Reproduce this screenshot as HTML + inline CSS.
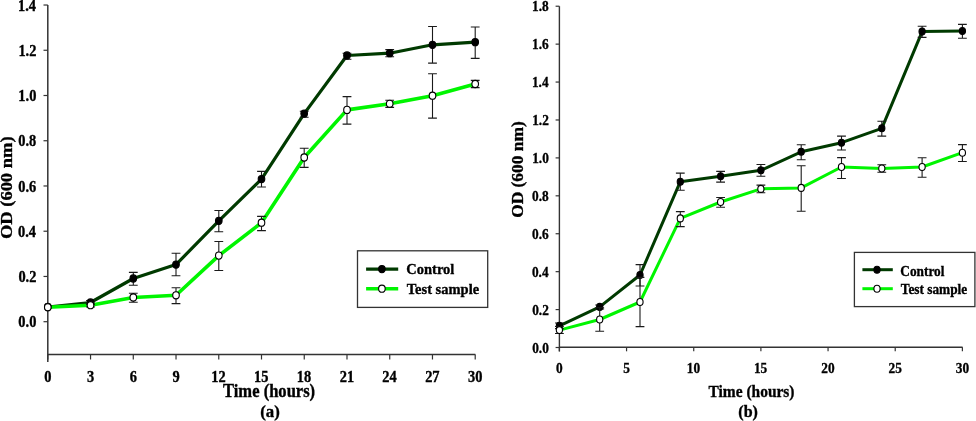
<!DOCTYPE html>
<html><head><meta charset="utf-8"><style>
html,body{margin:0;padding:0;background:#fff;overflow:hidden;}
svg{display:block;will-change:transform;}
text{font-family:"Liberation Serif", serif;font-weight:bold;fill:#000;stroke:#000;stroke-width:0.35px;}
</style></head><body>
<svg width="976" height="421" viewBox="0 0 976 421">
<rect width="976" height="421" fill="#fff"/>
<path d="M47.8,5V362" stroke="#333333" stroke-width="1.5" fill="none"/>
<path d="M47.8,354.5H475.4" stroke="#333333" stroke-width="1.4" fill="none"/>
<path d="M43.5,321.70H47.8" stroke="#333333" stroke-width="1.2"/>
<text transform="translate(18.35,327.30) scale(0.900,1)" font-size="16">0.0</text>
<path d="M43.5,276.46H47.8" stroke="#333333" stroke-width="1.2"/>
<text transform="translate(18.42,282.06) scale(0.900,1)" font-size="16">0.2</text>
<path d="M43.5,231.22H47.8" stroke="#333333" stroke-width="1.2"/>
<text transform="translate(18.07,236.82) scale(0.900,1)" font-size="16">0.4</text>
<path d="M43.5,185.98H47.8" stroke="#333333" stroke-width="1.2"/>
<text transform="translate(18.22,191.58) scale(0.900,1)" font-size="16">0.6</text>
<path d="M43.5,140.74H47.8" stroke="#333333" stroke-width="1.2"/>
<text transform="translate(18.28,146.34) scale(0.900,1)" font-size="16">0.8</text>
<path d="M43.5,95.50H47.8" stroke="#333333" stroke-width="1.2"/>
<text transform="translate(18.35,101.10) scale(0.900,1)" font-size="16">1.0</text>
<path d="M43.5,50.26H47.8" stroke="#333333" stroke-width="1.2"/>
<text transform="translate(18.42,55.86) scale(0.900,1)" font-size="16">1.2</text>
<path d="M43.5,5.02H47.8" stroke="#333333" stroke-width="1.2"/>
<text transform="translate(18.07,10.62) scale(0.900,1)" font-size="16">1.4</text>
<path d="M47.80,354.5V359.5" stroke="#333333" stroke-width="1.2"/>
<text transform="translate(44.20,381.70) scale(0.900,1)" font-size="16">0</text>
<path d="M90.54,354.5V359.5" stroke="#333333" stroke-width="1.2"/>
<text transform="translate(86.92,381.70) scale(0.900,1)" font-size="16">3</text>
<path d="M133.28,354.5V359.5" stroke="#333333" stroke-width="1.2"/>
<text transform="translate(129.65,381.70) scale(0.900,1)" font-size="16">6</text>
<path d="M176.02,354.5V359.5" stroke="#333333" stroke-width="1.2"/>
<text transform="translate(172.49,381.70) scale(0.900,1)" font-size="16">9</text>
<path d="M218.76,354.5V359.5" stroke="#333333" stroke-width="1.2"/>
<text transform="translate(211.30,381.70) scale(0.900,1)" font-size="16">12</text>
<path d="M261.50,354.5V359.5" stroke="#333333" stroke-width="1.2"/>
<text transform="translate(253.99,381.70) scale(0.900,1)" font-size="16">15</text>
<path d="M304.25,354.5V359.5" stroke="#333333" stroke-width="1.2"/>
<text transform="translate(296.71,381.70) scale(0.900,1)" font-size="16">18</text>
<path d="M346.99,354.5V359.5" stroke="#333333" stroke-width="1.2"/>
<text transform="translate(339.86,381.70) scale(0.900,1)" font-size="16">21</text>
<path d="M389.73,354.5V359.5" stroke="#333333" stroke-width="1.2"/>
<text transform="translate(382.36,381.70) scale(0.900,1)" font-size="16">24</text>
<path d="M432.47,354.5V359.5" stroke="#333333" stroke-width="1.2"/>
<text transform="translate(425.14,381.70) scale(0.900,1)" font-size="16">27</text>
<path d="M475.21,354.5V359.5" stroke="#333333" stroke-width="1.2"/>
<text transform="translate(468.01,381.70) scale(0.900,1)" font-size="16">30</text>
<polyline points="47.8,307.0 90.5,302.5 133.3,278.5 176.0,264.6 218.8,220.8 261.5,179.1 304.2,113.6 347.0,55.5 389.7,53.2 432.5,44.8 475.2,42.2" fill="none" stroke="#003a00" stroke-width="3.2" stroke-linejoin="round"/>
<polyline points="47.8,307.2 90.5,305.2 133.3,297.5 176.0,295.3 218.8,255.6 261.5,222.7 304.2,157.5 347.0,109.9 389.7,103.8 432.5,95.7 475.2,84.0" fill="none" stroke="#00f500" stroke-width="3.6" stroke-linejoin="round"/>
<path d="M90.5,300.5V304.5M86.1,300.5h8.8M86.1,304.5h8.8" stroke="#1a1a1a" stroke-width="1.1" fill="none"/>
<path d="M133.3,272.4V285.2M128.9,272.4h8.8M128.9,285.2h8.8" stroke="#1a1a1a" stroke-width="1.1" fill="none"/>
<path d="M176.0,253.3V275.7M171.6,253.3h8.8M171.6,275.7h8.8" stroke="#1a1a1a" stroke-width="1.1" fill="none"/>
<path d="M218.8,210.5V231.7M214.4,210.5h8.8M214.4,231.7h8.8" stroke="#1a1a1a" stroke-width="1.1" fill="none"/>
<path d="M261.5,171.4V187.0M257.1,171.4h8.8M257.1,187.0h8.8" stroke="#1a1a1a" stroke-width="1.1" fill="none"/>
<path d="M304.2,111.3V117.3M299.8,111.3h8.8M299.8,117.3h8.8" stroke="#1a1a1a" stroke-width="1.1" fill="none"/>
<path d="M347.0,53.3V59.2M342.6,53.3h8.8M342.6,59.2h8.8" stroke="#1a1a1a" stroke-width="1.1" fill="none"/>
<path d="M389.7,49.6V56.8M385.3,49.6h8.8M385.3,56.8h8.8" stroke="#1a1a1a" stroke-width="1.1" fill="none"/>
<path d="M432.5,26.5V63.1M428.1,26.5h8.8M428.1,63.1h8.8" stroke="#1a1a1a" stroke-width="1.1" fill="none"/>
<path d="M475.2,27.0V58.4M470.8,27.0h8.8M470.8,58.4h8.8" stroke="#1a1a1a" stroke-width="1.1" fill="none"/>
<ellipse cx="47.8" cy="307.0" rx="3.3" ry="3.6" fill="#000" stroke="#000" stroke-width="1.1"/>
<ellipse cx="90.5" cy="302.5" rx="3.3" ry="3.6" fill="#000" stroke="#000" stroke-width="1.1"/>
<ellipse cx="133.3" cy="278.5" rx="3.3" ry="3.6" fill="#000" stroke="#000" stroke-width="1.1"/>
<ellipse cx="176.0" cy="264.6" rx="3.3" ry="3.6" fill="#000" stroke="#000" stroke-width="1.1"/>
<ellipse cx="218.8" cy="220.8" rx="3.3" ry="3.6" fill="#000" stroke="#000" stroke-width="1.1"/>
<ellipse cx="261.5" cy="179.1" rx="3.3" ry="3.6" fill="#000" stroke="#000" stroke-width="1.1"/>
<ellipse cx="304.2" cy="113.6" rx="3.3" ry="3.6" fill="#000" stroke="#000" stroke-width="1.1"/>
<ellipse cx="347.0" cy="55.5" rx="3.3" ry="3.6" fill="#000" stroke="#000" stroke-width="1.1"/>
<ellipse cx="389.7" cy="53.2" rx="3.3" ry="3.6" fill="#000" stroke="#000" stroke-width="1.1"/>
<ellipse cx="432.5" cy="44.8" rx="3.3" ry="3.6" fill="#000" stroke="#000" stroke-width="1.1"/>
<ellipse cx="475.2" cy="42.2" rx="3.3" ry="3.6" fill="#000" stroke="#000" stroke-width="1.1"/>
<path d="M90.5,303.0V307.0M86.1,303.0h8.8M86.1,307.0h8.8" stroke="#1a1a1a" stroke-width="1.1" fill="none"/>
<path d="M133.3,293.3V302.3M128.9,293.3h8.8M128.9,302.3h8.8" stroke="#1a1a1a" stroke-width="1.1" fill="none"/>
<path d="M176.0,287.7V303.6M171.6,287.7h8.8M171.6,303.6h8.8" stroke="#1a1a1a" stroke-width="1.1" fill="none"/>
<path d="M218.8,241.5V270.5M214.4,241.5h8.8M214.4,270.5h8.8" stroke="#1a1a1a" stroke-width="1.1" fill="none"/>
<path d="M261.5,216.4V230.6M257.1,216.4h8.8M257.1,230.6h8.8" stroke="#1a1a1a" stroke-width="1.1" fill="none"/>
<path d="M304.2,148.3V167.4M299.8,148.3h8.8M299.8,167.4h8.8" stroke="#1a1a1a" stroke-width="1.1" fill="none"/>
<path d="M347.0,96.6V124.1M342.6,96.6h8.8M342.6,124.1h8.8" stroke="#1a1a1a" stroke-width="1.1" fill="none"/>
<path d="M389.7,100.2V107.4M385.3,100.2h8.8M385.3,107.4h8.8" stroke="#1a1a1a" stroke-width="1.1" fill="none"/>
<path d="M432.5,73.8V118.1M428.1,73.8h8.8M428.1,118.1h8.8" stroke="#1a1a1a" stroke-width="1.1" fill="none"/>
<path d="M475.2,80.4V87.6M470.8,80.4h8.8M470.8,87.6h8.8" stroke="#1a1a1a" stroke-width="1.1" fill="none"/>
<ellipse cx="47.8" cy="307.2" rx="3.3" ry="3.6" fill="#fff" stroke="#000" stroke-width="1.1"/>
<ellipse cx="90.5" cy="305.2" rx="3.3" ry="3.6" fill="#fff" stroke="#000" stroke-width="1.1"/>
<ellipse cx="133.3" cy="297.5" rx="3.3" ry="3.6" fill="#fff" stroke="#000" stroke-width="1.1"/>
<ellipse cx="176.0" cy="295.3" rx="3.3" ry="3.6" fill="#fff" stroke="#000" stroke-width="1.1"/>
<ellipse cx="218.8" cy="255.6" rx="3.3" ry="3.6" fill="#fff" stroke="#000" stroke-width="1.1"/>
<ellipse cx="261.5" cy="222.7" rx="3.3" ry="3.6" fill="#fff" stroke="#000" stroke-width="1.1"/>
<ellipse cx="304.2" cy="157.5" rx="3.3" ry="3.6" fill="#fff" stroke="#000" stroke-width="1.1"/>
<ellipse cx="347.0" cy="109.9" rx="3.3" ry="3.6" fill="#fff" stroke="#000" stroke-width="1.1"/>
<ellipse cx="389.7" cy="103.8" rx="3.3" ry="3.6" fill="#fff" stroke="#000" stroke-width="1.1"/>
<ellipse cx="432.5" cy="95.7" rx="3.3" ry="3.6" fill="#fff" stroke="#000" stroke-width="1.1"/>
<ellipse cx="475.2" cy="84.0" rx="3.3" ry="3.6" fill="#fff" stroke="#000" stroke-width="1.1"/>
<rect x="357.5" y="250.8" width="130.2" height="56.6" fill="#fff" stroke="#333333" stroke-width="1.3"/>
<path d="M366.1,269.1H398.2" stroke="#003a00" stroke-width="3.2"/>
<ellipse cx="381.9" cy="269.1" rx="3.3" ry="3.6" fill="#000" stroke="#000" stroke-width="1.1"/>
<path d="M366.1,288.7H398.2" stroke="#00f500" stroke-width="3.6"/>
<ellipse cx="381.9" cy="288.7" rx="3.3" ry="3.6" fill="#fff" stroke="#000" stroke-width="1.1"/>
<text transform="translate(406.29,274.30) scale(0.935,1)" font-size="15.5">Control</text>
<text transform="translate(406.77,294.20) scale(0.935,1)" font-size="15.5">Test sample</text>
<text transform="translate(223.04,396.50) scale(0.920,1)" font-size="18">Time (hours)</text>
<text transform="translate(260.26,416.70) scale(0.990,1)" font-size="17">(a)</text>
<text transform="translate(11.90,239.10) rotate(-90) scale(1.000,0.900)" font-size="18.5">OD (600 nm)</text>
<path d="M559.4,6.2V351.6" stroke="#333333" stroke-width="1.4" fill="none"/>
<path d="M559.4,347.3H962.6" stroke="#333333" stroke-width="1.4" fill="none"/>
<path d="M555.6,347.50H559.4" stroke="#333333" stroke-width="1.2"/>
<text transform="translate(532.16,352.50) scale(0.900,1)" font-size="14.8">0.0</text>
<path d="M555.6,309.58H559.4" stroke="#333333" stroke-width="1.2"/>
<text transform="translate(532.22,314.58) scale(0.900,1)" font-size="14.8">0.2</text>
<path d="M555.6,271.66H559.4" stroke="#333333" stroke-width="1.2"/>
<text transform="translate(531.90,276.66) scale(0.900,1)" font-size="14.8">0.4</text>
<path d="M555.6,233.74H559.4" stroke="#333333" stroke-width="1.2"/>
<text transform="translate(532.04,238.74) scale(0.900,1)" font-size="14.8">0.6</text>
<path d="M555.6,195.82H559.4" stroke="#333333" stroke-width="1.2"/>
<text transform="translate(532.09,200.82) scale(0.900,1)" font-size="14.8">0.8</text>
<path d="M555.6,157.90H559.4" stroke="#333333" stroke-width="1.2"/>
<text transform="translate(532.16,162.90) scale(0.900,1)" font-size="14.8">1.0</text>
<path d="M555.6,119.98H559.4" stroke="#333333" stroke-width="1.2"/>
<text transform="translate(532.22,124.98) scale(0.900,1)" font-size="14.8">1.2</text>
<path d="M555.6,82.06H559.4" stroke="#333333" stroke-width="1.2"/>
<text transform="translate(531.90,87.06) scale(0.900,1)" font-size="14.8">1.4</text>
<path d="M555.6,44.14H559.4" stroke="#333333" stroke-width="1.2"/>
<text transform="translate(532.04,49.14) scale(0.900,1)" font-size="14.8">1.6</text>
<path d="M555.6,6.22H559.4" stroke="#333333" stroke-width="1.2"/>
<text transform="translate(532.09,11.22) scale(0.900,1)" font-size="14.8">1.8</text>
<path d="M559.40,347.3V351.3" stroke="#333333" stroke-width="1.2"/>
<text transform="translate(556.07,372.90) scale(0.900,1)" font-size="14.8">0</text>
<path d="M626.56,347.3V351.3" stroke="#333333" stroke-width="1.2"/>
<text transform="translate(623.21,372.90) scale(0.900,1)" font-size="14.8">5</text>
<path d="M693.73,347.3V351.3" stroke="#333333" stroke-width="1.2"/>
<text transform="translate(686.79,372.90) scale(0.900,1)" font-size="14.8">10</text>
<path d="M760.89,347.3V351.3" stroke="#333333" stroke-width="1.2"/>
<text transform="translate(753.95,372.90) scale(0.900,1)" font-size="14.8">15</text>
<path d="M828.06,347.3V351.3" stroke="#333333" stroke-width="1.2"/>
<text transform="translate(821.37,372.90) scale(0.900,1)" font-size="14.8">20</text>
<path d="M895.22,347.3V351.3" stroke="#333333" stroke-width="1.2"/>
<text transform="translate(888.53,372.90) scale(0.900,1)" font-size="14.8">25</text>
<path d="M962.39,347.3V351.3" stroke="#333333" stroke-width="1.2"/>
<text transform="translate(955.73,372.90) scale(0.900,1)" font-size="14.8">30</text>
<polyline points="559.4,325.8 599.7,306.9 640.0,275.0 680.3,181.7 720.6,176.3 760.9,170.3 801.2,151.8 841.5,142.7 881.8,128.3 922.1,31.6 962.4,31.0" fill="none" stroke="#003a00" stroke-width="3.0" stroke-linejoin="round"/>
<polyline points="559.4,330.1 599.7,319.5 640.0,302.0 680.3,218.4 720.6,202.0 760.9,188.9 801.2,187.9 841.5,167.0 881.8,168.5 922.1,167.0 962.4,152.7" fill="none" stroke="#00f500" stroke-width="3.0" stroke-linejoin="round"/>
<path d="M559.4,323.0V328.6M555.0,323.0h8.8M555.0,328.6h8.8" stroke="#1a1a1a" stroke-width="1.1" fill="none"/>
<path d="M599.7,305.0V309.0M595.3,305.0h8.8M595.3,309.0h8.8" stroke="#1a1a1a" stroke-width="1.1" fill="none"/>
<path d="M640.0,264.6V286.0M635.6,264.6h8.8M635.6,286.0h8.8" stroke="#1a1a1a" stroke-width="1.1" fill="none"/>
<path d="M680.3,173.1V190.2M675.9,173.1h8.8M675.9,190.2h8.8" stroke="#1a1a1a" stroke-width="1.1" fill="none"/>
<path d="M720.6,171.4V182.1M716.2,171.4h8.8M716.2,182.1h8.8" stroke="#1a1a1a" stroke-width="1.1" fill="none"/>
<path d="M760.9,164.5V176.3M756.5,164.5h8.8M756.5,176.3h8.8" stroke="#1a1a1a" stroke-width="1.1" fill="none"/>
<path d="M801.2,144.8V159.7M796.8,144.8h8.8M796.8,159.7h8.8" stroke="#1a1a1a" stroke-width="1.1" fill="none"/>
<path d="M841.5,136.1V150.0M837.1,136.1h8.8M837.1,150.0h8.8" stroke="#1a1a1a" stroke-width="1.1" fill="none"/>
<path d="M881.8,121.2V136.1M877.4,121.2h8.8M877.4,136.1h8.8" stroke="#1a1a1a" stroke-width="1.1" fill="none"/>
<path d="M922.1,26.2V37.4M917.7,26.2h8.8M917.7,37.4h8.8" stroke="#1a1a1a" stroke-width="1.1" fill="none"/>
<path d="M962.4,24.4V38.3M958.0,24.4h8.8M958.0,38.3h8.8" stroke="#1a1a1a" stroke-width="1.1" fill="none"/>
<ellipse cx="559.4" cy="325.8" rx="3.1" ry="3.5" fill="#000" stroke="#000" stroke-width="1.1"/>
<ellipse cx="599.7" cy="306.9" rx="3.1" ry="3.5" fill="#000" stroke="#000" stroke-width="1.1"/>
<ellipse cx="640.0" cy="275.0" rx="3.1" ry="3.5" fill="#000" stroke="#000" stroke-width="1.1"/>
<ellipse cx="680.3" cy="181.7" rx="3.1" ry="3.5" fill="#000" stroke="#000" stroke-width="1.1"/>
<ellipse cx="720.6" cy="176.3" rx="3.1" ry="3.5" fill="#000" stroke="#000" stroke-width="1.1"/>
<ellipse cx="760.9" cy="170.3" rx="3.1" ry="3.5" fill="#000" stroke="#000" stroke-width="1.1"/>
<ellipse cx="801.2" cy="151.8" rx="3.1" ry="3.5" fill="#000" stroke="#000" stroke-width="1.1"/>
<ellipse cx="841.5" cy="142.7" rx="3.1" ry="3.5" fill="#000" stroke="#000" stroke-width="1.1"/>
<ellipse cx="881.8" cy="128.3" rx="3.1" ry="3.5" fill="#000" stroke="#000" stroke-width="1.1"/>
<ellipse cx="922.1" cy="31.6" rx="3.1" ry="3.5" fill="#000" stroke="#000" stroke-width="1.1"/>
<ellipse cx="962.4" cy="31.0" rx="3.1" ry="3.5" fill="#000" stroke="#000" stroke-width="1.1"/>
<path d="M559.4,326.5V333.5M555.0,326.5h8.8M555.0,333.5h8.8" stroke="#1a1a1a" stroke-width="1.1" fill="none"/>
<path d="M599.7,307.7V331.3M595.3,307.7h8.8M595.3,331.3h8.8" stroke="#1a1a1a" stroke-width="1.1" fill="none"/>
<path d="M640.0,277.4V326.6M635.6,277.4h8.8M635.6,326.6h8.8" stroke="#1a1a1a" stroke-width="1.1" fill="none"/>
<path d="M680.3,211.6V226.6M675.9,211.6h8.8M675.9,226.6h8.8" stroke="#1a1a1a" stroke-width="1.1" fill="none"/>
<path d="M720.6,197.5V207.3M716.2,197.5h8.8M716.2,207.3h8.8" stroke="#1a1a1a" stroke-width="1.1" fill="none"/>
<path d="M760.9,185.1V192.7M756.5,185.1h8.8M756.5,192.7h8.8" stroke="#1a1a1a" stroke-width="1.1" fill="none"/>
<path d="M801.2,165.7V211.2M796.8,165.7h8.8M796.8,211.2h8.8" stroke="#1a1a1a" stroke-width="1.1" fill="none"/>
<path d="M841.5,157.6V178.5M837.1,157.6h8.8M837.1,178.5h8.8" stroke="#1a1a1a" stroke-width="1.1" fill="none"/>
<path d="M881.8,164.7V172.3M877.4,164.7h8.8M877.4,172.3h8.8" stroke="#1a1a1a" stroke-width="1.1" fill="none"/>
<path d="M922.1,157.7V177.3M917.7,157.7h8.8M917.7,177.3h8.8" stroke="#1a1a1a" stroke-width="1.1" fill="none"/>
<path d="M962.4,144.6V161.5M958.0,144.6h8.8M958.0,161.5h8.8" stroke="#1a1a1a" stroke-width="1.1" fill="none"/>
<ellipse cx="559.4" cy="330.1" rx="3.1" ry="3.5" fill="#fff" stroke="#000" stroke-width="1.1"/>
<ellipse cx="599.7" cy="319.5" rx="3.1" ry="3.5" fill="#fff" stroke="#000" stroke-width="1.1"/>
<ellipse cx="640.0" cy="302.0" rx="3.1" ry="3.5" fill="#fff" stroke="#000" stroke-width="1.1"/>
<ellipse cx="680.3" cy="218.4" rx="3.1" ry="3.5" fill="#fff" stroke="#000" stroke-width="1.1"/>
<ellipse cx="720.6" cy="202.0" rx="3.1" ry="3.5" fill="#fff" stroke="#000" stroke-width="1.1"/>
<ellipse cx="760.9" cy="188.9" rx="3.1" ry="3.5" fill="#fff" stroke="#000" stroke-width="1.1"/>
<ellipse cx="801.2" cy="187.9" rx="3.1" ry="3.5" fill="#fff" stroke="#000" stroke-width="1.1"/>
<ellipse cx="841.5" cy="167.0" rx="3.1" ry="3.5" fill="#fff" stroke="#000" stroke-width="1.1"/>
<ellipse cx="881.8" cy="168.5" rx="3.1" ry="3.5" fill="#fff" stroke="#000" stroke-width="1.1"/>
<ellipse cx="922.1" cy="167.0" rx="3.1" ry="3.5" fill="#fff" stroke="#000" stroke-width="1.1"/>
<ellipse cx="962.4" cy="152.7" rx="3.1" ry="3.5" fill="#fff" stroke="#000" stroke-width="1.1"/>
<rect x="854.4" y="252.4" width="120.5" height="54.2" fill="#fff" stroke="#333333" stroke-width="1.3"/>
<path d="M862.4,269.7H892.8" stroke="#003a00" stroke-width="3.0"/>
<ellipse cx="877" cy="269.7" rx="3.1" ry="3.5" fill="#000" stroke="#000" stroke-width="1.1"/>
<path d="M862.4,288.7H892.8" stroke="#00f500" stroke-width="3.0"/>
<ellipse cx="877" cy="288.7" rx="3.1" ry="3.5" fill="#fff" stroke="#000" stroke-width="1.1"/>
<text transform="translate(900.35,275.50) scale(0.900,1)" font-size="14.8">Control</text>
<text transform="translate(900.79,293.90) scale(0.900,1)" font-size="14.8">Test sample</text>
<text transform="translate(708.56,397.00) scale(0.920,1)" font-size="16.8">Time (hours)</text>
<text transform="translate(738.30,416.50) scale(0.960,1)" font-size="16.7">(b)</text>
<text transform="translate(522.50,217.85) rotate(-90) scale(1.000,0.920)" font-size="17.4">OD (600 nm)</text>
</svg>
</body></html>
